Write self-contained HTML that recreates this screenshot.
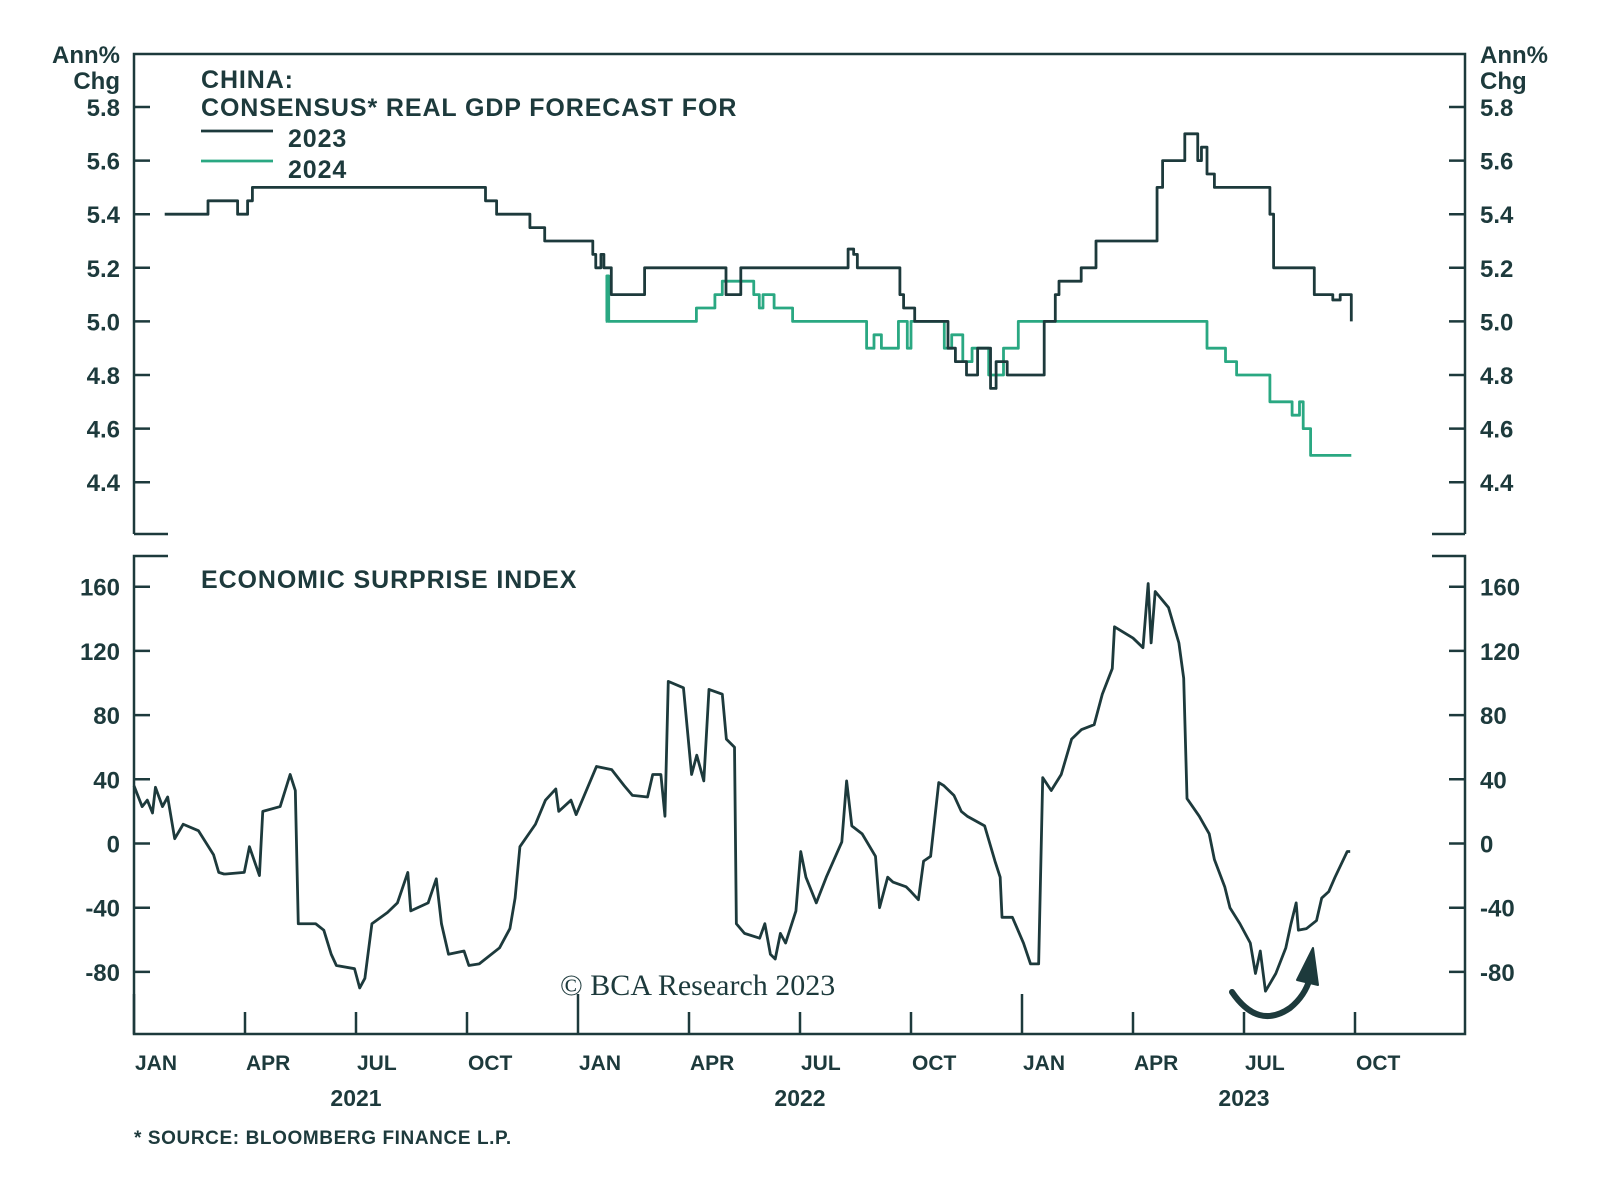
<!DOCTYPE html>
<html><head><meta charset="utf-8"><style>
html,body{margin:0;padding:0;background:#fff;}
svg{display:block;font-family:"Liberation Sans",sans-serif;}
</style></head><body>
<svg id="chart" width="1600" height="1186" viewBox="0 0 1600 1186" xmlns="http://www.w3.org/2000/svg">
<g id="frame" stroke="#1d3a3c" stroke-width="2.5" fill="none"></g>
<g id="labels" fill="#1d3a3c" font-weight="bold"></g>
<g id="series" fill="none" stroke-linejoin="round"></g>
</svg>
<script>
// ---- data ----
const upperTicks = [5.8, 5.6, 5.4, 5.2, 5.0, 4.8, 4.6, 4.4];
const lowerTicks = [160, 120, 80, 40, 0, -40, -80];
const quarterLabels = ["JAN","APR","JUL","OCT","JAN","APR","JUL","OCT","JAN","APR","JUL","OCT"];
const yearLabels = ["2021","2022","2023"];
// 2023 GDP forecast: months since Jan 2021, value (step series)
const f23Months = [0.83,2.0,2.8,3.07,3.2,9.5,9.8,10.7,11.1,12.4,12.48,12.62,12.7,12.9,13.8,16.0,16.4,19.3,19.45,19.55,20.7,20.8,21.1,22.0,22.2,22.5,22.8,23.15,23.3,23.6,24.6,24.9,25.0,25.6,26.0,27.65,27.8,28.0,28.4,28.75,28.85,29.0,29.2,30.7,30.8,31.9,32.4,32.6,32.9];
const f23Values = [5.4,5.45,5.4,5.45,5.5,5.45,5.4,5.35,5.3,5.25,5.2,5.25,5.2,5.1,5.2,5.1,5.2,5.27,5.25,5.2,5.1,5.05,5.0,4.9,4.85,4.8,4.9,4.75,4.85,4.8,5.0,5.1,5.15,5.2,5.3,5.5,5.6,5.6,5.7,5.6,5.65,5.55,5.5,5.4,5.2,5.1,5.08,5.1,5.0];
// 2024 GDP forecast
const f24Months = [12.75,12.78,12.83,15.2,15.7,15.9,16.75,16.9,17.0,17.3,17.8,19.8,20.0,20.2,20.66,20.9,21.0,21.9,22.1,22.4,22.65,23.1,23.5,23.9,29.0,29.5,29.8,30.7,31.3,31.5,31.6,31.8,32.9];
const f24Values = [5.0,5.17,5.0,5.05,5.1,5.15,5.1,5.05,5.1,5.05,5.0,4.9,4.95,4.9,5.0,4.9,5.0,4.9,4.95,4.85,4.9,4.8,4.9,5.0,4.9,4.85,4.8,4.7,4.65,4.7,4.6,4.5,4.5];
// Economic surprise index
const esiMonths = [0,0.22,0.36,0.5,0.58,0.77,0.91,1.1,1.33,1.74,2.15,2.29,2.43,2.48,2.98,3.12,3.39,3.48,3.95,4.22,4.36,4.44,4.91,5.13,5.33,5.47,5.96,6.1,6.24,6.43,6.85,7.12,7.4,7.48,7.95,8.17,8.31,8.5,8.92,9.05,9.33,9.88,10.16,10.3,10.43,10.85,11.12,11.4,11.48,11.81,11.95,12.5,12.91,13.25,13.47,13.88,14.02,14.24,14.35,14.44,14.85,15.07,15.21,15.4,15.54,15.9,16.01,16.23,16.28,16.5,16.91,17.05,17.2,17.33,17.47,17.61,17.89,18.02,18.16,18.44,18.71,19.13,19.26,19.4,19.68,20.04,20.15,20.37,20.51,20.87,21.0,21.2,21.34,21.53,21.75,21.89,22.16,22.36,22.52,22.99,23.27,23.41,23.46,23.74,24.04,24.23,24.45,24.56,24.79,25.06,25.34,25.61,25.95,26.17,26.44,26.5,27.0,27.27,27.41,27.49,27.6,27.96,28.24,28.37,28.46,28.79,29.06,29.2,29.48,29.62,29.89,30.17,30.31,30.44,30.58,30.86,31.13,31.27,31.41,31.47,31.69,31.96,32.1,32.29,32.46,32.79,32.87];
const esiValues = [36,23,27,19,35,23,29,3,12,8,-7,-18,-19,-19,-18,-2,-20,20,23,43,33,-50,-50,-54,-69,-76,-78,-90,-84,-50,-43,-37,-18,-42,-37,-22,-50,-69,-67,-76,-75,-65,-53,-34,-2,12,27,34,20,27,18,48,46,36,30,29,43,43,17,101,97,43,55,39,96,93,65,60,-50,-56,-59,-50,-69,-72,-56,-62,-42,-5,-21,-37,-21,1,39,11,6,-8,-40,-21,-24,-27,-30,-35,-11,-8,38,36,30,20,17,11,-11,-21,-46,-46,-62,-75,-75,41,33,43,65,71,74,93,109,135,128,122,162,125,157,147,125,103,28,17,6,-10,-27,-40,-50,-62,-81,-67,-92,-81,-65,-50,-37,-54,-53,-48,-34,-30,-21,-5,-5];

// ---- scales ----
const X = m => 134 + m * 37;
const YU = v => 107 + (5.8 - v) / 0.2 * 53.6;
const YL = v => 843.5 - v / 40 * 64.2;
const L = 134, R = 1465, C = "#1d3a3c", G = "#2aa882";
const NS = "http://www.w3.org/2000/svg";
function mk(tag, parent, attrs, text){
  const e = document.createElementNS(NS, tag);
  for (const k in attrs) e.setAttribute(k, attrs[k]);
  if (text !== undefined) e.textContent = text;
  parent.appendChild(e); return e;
}
const frame = document.getElementById('frame');
const labels = document.getElementById('labels');
const series = document.getElementById('series');

let p = mk('path', frame, {d:`M${L},534 V54 H${R} V534 M${L},534 H168 M${R},534 H1432 M168,556 H${L} V1034 H${R} V556 H1432`});



upperTicks.forEach(v => {
  const y = YU(v);
  let t = mk('path', frame, {d:`M${L},${y} H${L+16} M${R},${y} H${R-16}`});
  
  
  let a = mk('text', labels, {x:120, y:y+9, 'text-anchor':'end', 'font-size':24}, v.toFixed(1));
  
  
  let b = mk('text', labels, {x:1480, y:y+9, 'font-size':24}, v.toFixed(1));
  
  
});
lowerTicks.forEach(v => {
  const y = YL(v);
  let t = mk('path', frame, {d:`M${L},${y} H${L+16} M${R},${y} H${R-16}`});
  
  
  let a = mk('text', labels, {x:120, y:y+9, 'text-anchor':'end', 'font-size':24}, String(v));
  
  
  let b = mk('text', labels, {x:1480, y:y+9, 'font-size':24}, String(v));
  
  
});
quarterLabels.forEach((q, i) => {
  const x = X(i * 3);
  const top = q === "JAN" ? 994 : 1012;
  let t = mk('path', frame, {d:`M${x},1034 V${top}`});
  
  
  let a = mk('text', labels, {x:x+1, y:1070, 'font-size':21}, q);
  
  
});
yearLabels.forEach((yr, i) => {
  let a = mk('text', labels, {x:X(i*12+6), y:1106, 'text-anchor':'middle', 'font-size':23}, yr);
  
  
});

const texts = [
  ['y-unit-left', 120, 63, 'end', 'Ann%', 0], ['y-unit-left', 120, 89, 'end', 'Chg', 0],
  ['y-unit-right', 1480, 63, 'start', 'Ann%', 0], ['y-unit-right', 1480, 89, 'start', 'Chg', 0],
  ['upper-title', 201, 88, 'start', 'CHINA:', 0.9], ['upper-title', 201, 116, 'start', 'CONSENSUS* REAL GDP FORECAST FOR', 0.9],
  ['legend-label-2023', 288, 147, 'start', '2023', 0.9], ['legend-label-2024', 288, 178, 'start', '2024', 0.9],
  ['lower-title', 201, 588, 'start', 'ECONOMIC SURPRISE INDEX', 0.9]
];
texts.forEach(t => {
  let a = mk('text', labels, {x:t[1], y:t[2], 'text-anchor':t[3], 'font-size':t[5] ? 25 : 24, 'letter-spacing':t[5]}, t[4]);
  
  
});
let src = mk('text', labels, {x:134, y:1144, 'font-size':19, 'letter-spacing':0.6}, '* SOURCE: BLOOMBERG FINANCE L.P.');


let cr = mk('text', labels, {x:560, y:995, 'font-size':30, 'font-weight':'normal', 'font-family':'Liberation Serif, serif'}, '© BCA Research 2023');



let l1 = mk('path', series, {d:'M201,131 H273', stroke:C, 'stroke-width':2.8});


let l2 = mk('path', series, {d:'M201,161 H273', stroke:G, 'stroke-width':2.8});



function stepPath(ms, vs){
  let d = `M${X(ms[0])},${YU(vs[0])}`;
  for (let i = 1; i < ms.length; i++) d += ` H${X(ms[i])} V${YU(vs[i])}`;
  return d;
}
let s24 = mk('path', series, {d:stepPath(f24Months, f24Values), stroke:G, 'stroke-width':2.8});


let s23 = mk('path', series, {d:stepPath(f23Months, f23Values), stroke:C, 'stroke-width':2.8});


let esi = mk('path', series, {d:'M' + esiMonths.map((m,i)=>`${X(m)},${YL(esiValues[i])}`).join(' L'), stroke:C, 'stroke-width':2.8});



let arc = mk('path', series, {d:'M1232,992 Q1258,1030 1290,1008 Q1305,996 1310,978', stroke:C, 'stroke-width':6, 'stroke-linecap':'round'});


let head = mk('path', series, {d:'M1297,980 L1313,948 L1318,985 Z', fill:C, stroke:C, 'stroke-width':2});


</script>
</body></html>
